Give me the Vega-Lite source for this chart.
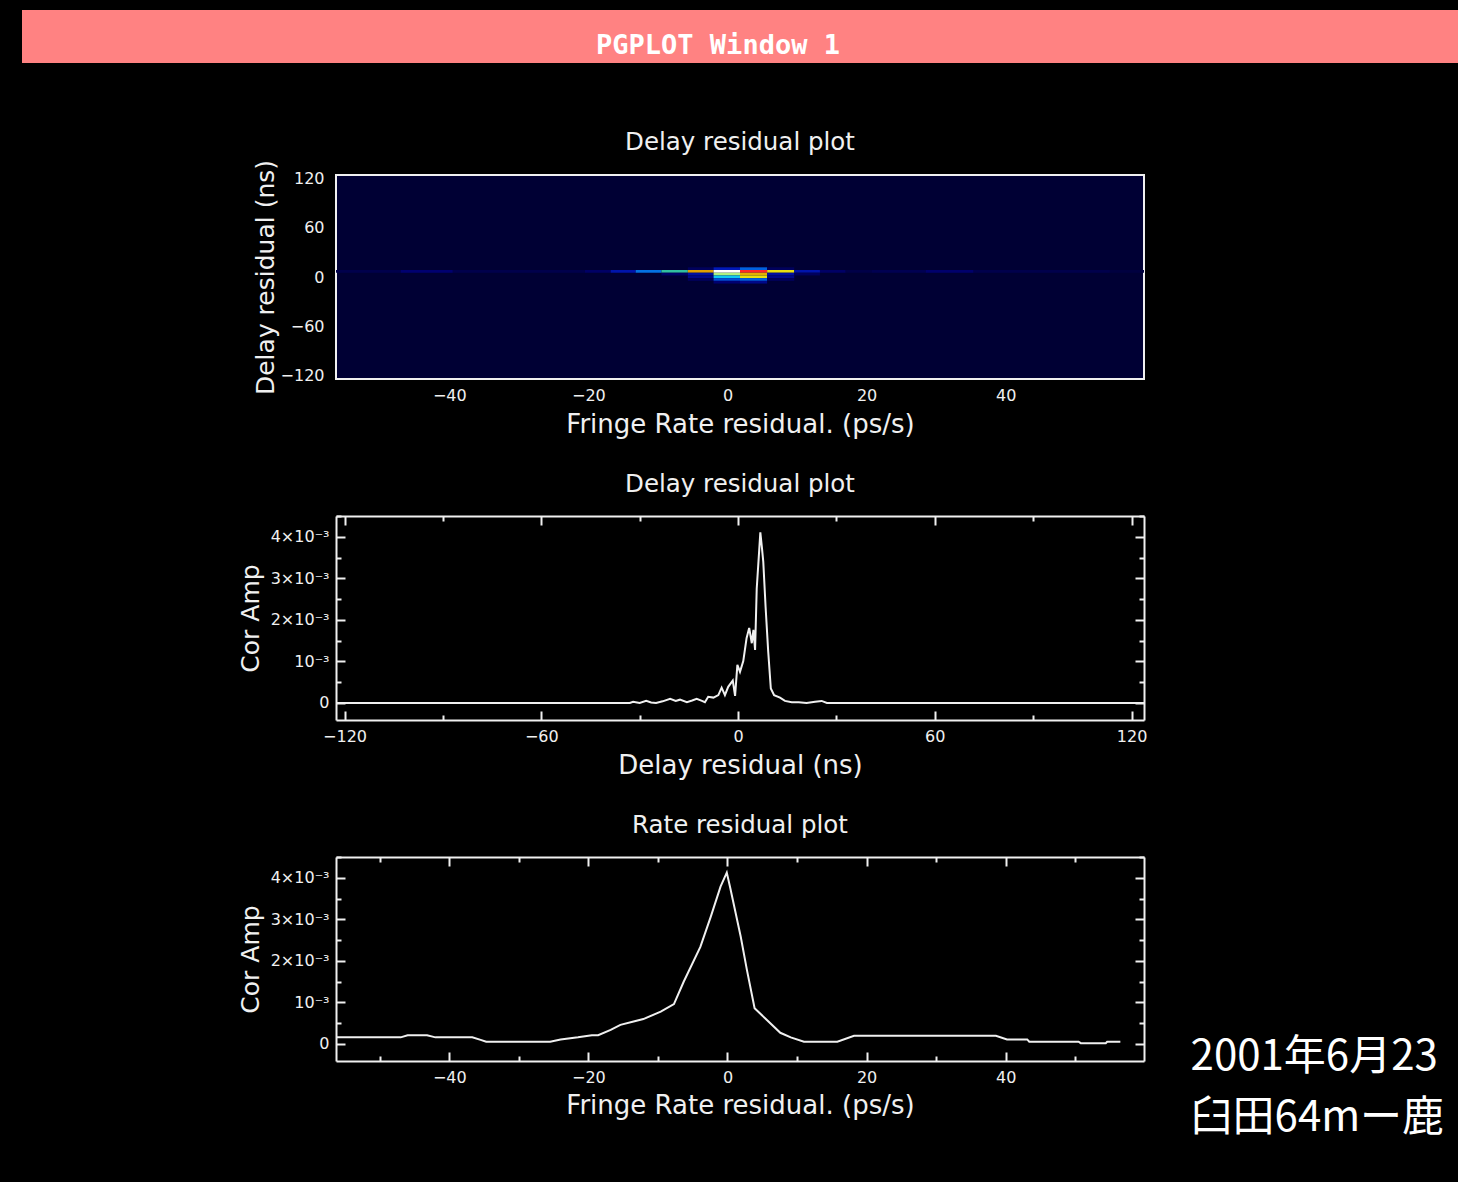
{
  "$schema": "https://vega.github.io/schema/vega-lite/v6.json",
  "background": "#000000",
  "padding": {"left": 22, "top": 10, "right": 0, "bottom": 48},
  "bounds": "flush",
  "center": true,
  "spacing": 112,
  "config": {
    "view": {"stroke": null},
    "font": "DejaVu Sans",
    "axis": {
      "labelFont": "DejaVu Sans", "labelFontSize": 16, "labelColor": "#f0f0f0",
      "titleFont": "DejaVu Sans", "titleFontSize": 25, "titleFontWeight": "normal", "titleColor": "#f0f0f0",
      "tickColor": "#f0f0f0", "tickWidth": 2, "domainColor": "#f0f0f0", "domainWidth": 2,
      "grid": false, "labelFlush": false, "labelOverlap": false
    },
    "axisBottom": {"titleFontSize": 26},
    "title": {"font": "DejaVu Sans", "fontSize": 24.5, "fontWeight": "normal", "color": "#f0f0f0", "baseline": "alphabetic", "anchor": "middle"}
  },
  "vconcat": [
    {
      "width": 1436, "height": 53,
      "view": {"fill": "#ff8282", "stroke": null},
      "data": {"values": [{"caption": "PGPLOT Window 1"}]},
      "mark": {"type": "text", "font": "DejaVu Sans Mono", "fontWeight": "bold", "fontSize": 27, "color": "#ffffff", "baseline": "middle", "dx": -22, "dy": 9},
      "encoding": {"text": {"field": "caption"}}
    },
    {
      "width": 808, "height": 204,
      "title": {"text": "Delay residual plot", "offset": 25, "dy": 21},
      "view": {"fill": "#000034", "stroke": "#f0f0f0", "strokeWidth": 2},
      "data": {"values": [
        {"r0": -56.3, "r1": -47, "d0": 5.2, "d1": 8.5, "amp": 0.12},
        {"r0": -47, "r1": -39.5, "d0": 5.2, "d1": 8.5, "amp": 0.3},
        {"r0": -39.5, "r1": -20.5, "d0": 5.2, "d1": 8.5, "amp": 0.12},
        {"r0": -20.5, "r1": -16.8, "d0": 5.2, "d1": 8.5, "amp": 0.25},
        {"r0": -16.8, "r1": -13.2, "d0": 5.2, "d1": 8.5, "amp": 0.55},
        {"r0": -13.2, "r1": -9.5, "d0": 5.2, "d1": 8.5, "amp": 1.1},
        {"r0": -9.5, "r1": -5.7, "d0": 5.2, "d1": 8.5, "amp": 2.0},
        {"r0": -5.7, "r1": -2.0, "d0": 5.2, "d1": 8.5, "amp": 3.2},
        {"r0": -2.0, "r1": 1.8, "d0": 5.2, "d1": 8.5, "amp": 4.0},
        {"r0": 1.8, "r1": 5.7, "d0": 5.2, "d1": 8.5, "amp": 3.6},
        {"r0": 5.7, "r1": 9.6, "d0": 5.2, "d1": 8.5, "amp": 2.8},
        {"r0": 9.6, "r1": 13.3, "d0": 5.2, "d1": 8.5, "amp": 0.55},
        {"r0": 13.3, "r1": 17, "d0": 5.2, "d1": 8.5, "amp": 0.25},
        {"r0": 17, "r1": 20.7, "d0": 5.2, "d1": 8.5, "amp": 0.1},
        {"r0": 20.7, "r1": 28.5, "d0": 5.2, "d1": 8.5, "amp": 0.15},
        {"r0": 28.5, "r1": 35.4, "d0": 5.2, "d1": 8.5, "amp": 0.28},
        {"r0": 35.4, "r1": 55, "d0": 5.2, "d1": 8.5, "amp": 0.12},
        {"r0": 55, "r1": 59.9, "d0": 5.2, "d1": 8.5, "amp": 0.06},
        {"r0": -5.7, "r1": -2.0, "d0": 8.5, "d1": 11.8, "amp": 0.2},
        {"r0": -2.0, "r1": 1.8, "d0": 8.5, "d1": 11.8, "amp": 0.6},
        {"r0": 1.8, "r1": 5.7, "d0": 8.5, "d1": 11.8, "amp": 1.0},
        {"r0": 5.7, "r1": 9.6, "d0": 8.5, "d1": 11.8, "amp": 0.2},
        {"r0": -9.5, "r1": -5.7, "d0": 1.9, "d1": 5.2, "amp": 0.25},
        {"r0": -5.7, "r1": -2.0, "d0": 1.9, "d1": 5.2, "amp": 0.5},
        {"r0": -2.0, "r1": 1.8, "d0": 1.9, "d1": 5.2, "amp": 2.4},
        {"r0": 1.8, "r1": 5.7, "d0": 1.9, "d1": 5.2, "amp": 3.1},
        {"r0": 5.7, "r1": 9.6, "d0": 1.9, "d1": 5.2, "amp": 0.5},
        {"r0": 9.6, "r1": 13.3, "d0": 1.9, "d1": 5.2, "amp": 0.2},
        {"r0": -5.7, "r1": -2.0, "d0": -1.4, "d1": 1.9, "amp": 0.4},
        {"r0": -2.0, "r1": 1.8, "d0": -1.4, "d1": 1.9, "amp": 1.6},
        {"r0": 1.8, "r1": 5.7, "d0": -1.4, "d1": 1.9, "amp": 2.8},
        {"r0": 5.7, "r1": 9.6, "d0": -1.4, "d1": 1.9, "amp": 0.4},
        {"r0": -5.7, "r1": -2.0, "d0": -4.7, "d1": -1.4, "amp": 0.2},
        {"r0": -2.0, "r1": 1.8, "d0": -4.7, "d1": -1.4, "amp": 0.9},
        {"r0": 1.8, "r1": 5.7, "d0": -4.7, "d1": -1.4, "amp": 1.0},
        {"r0": 5.7, "r1": 9.6, "d0": -4.7, "d1": -1.4, "amp": 0.2},
        {"r0": -2.0, "r1": 1.8, "d0": -8.0, "d1": -4.7, "amp": 0.3},
        {"r0": 1.8, "r1": 5.7, "d0": -8.0, "d1": -4.7, "amp": 0.4}
      ]},
      "mark": {"type": "rect"},
      "encoding": {
        "x": {"field": "r0", "type": "quantitative",
              "scale": {"domain": [-56.3, 59.9], "nice": false, "zero": false},
              "axis": {"values": [-40, -20, 0, 20, 40], "ticks": false, "domain": false, "labelPadding": 8,
                       "title": "Fringe Rate residual. (ps/s)", "titleY": 53, "titleBaseline": "alphabetic"}},
        "x2": {"field": "r1"},
        "y": {"field": "d0", "type": "quantitative",
              "scale": {"domain": [-124.3, 124.3], "nice": false, "zero": false},
              "axis": {"values": [-120, -60, 0, 60, 120], "ticks": false, "domain": false, "labelPadding": 12,
                       "title": "Delay residual (ns)", "titleX": -63, "titleY": 102, "titleAngle": 270,
                       "titleBaseline": "alphabetic", "titleAlign": "center"}},
        "y2": {"field": "d1"},
        "color": {"field": "amp", "type": "quantitative", "legend": null,
                  "scale": {"domain": [0, 0.3, 0.6, 1.0, 1.6, 2.0, 2.4, 2.8, 3.2, 3.6, 4.0],
                            "range": ["#000034", "#000070", "#0018b8", "#0060e0", "#10c8f0", "#30c0a0", "#b0f080", "#e8e010", "#e0a000", "#ff2828", "#ffffff"],
                            "interpolate": "rgb"}}
      }
    },
    {
      "width": 808, "height": 229,
      "title": {"text": "Delay residual plot", "offset": 0, "dy": 6},
      "view": {"stroke": null},
      "data": {"values": [
        {"d": -122.6, "a": 0}, {"d": -33, "a": 0}, {"d": -32, "a": 0.00003}, {"d": -30, "a": 0},
        {"d": -28, "a": 0.00005}, {"d": -26.5, "a": 0.00001}, {"d": -25, "a": 0}, {"d": -23, "a": 0.00004},
        {"d": -20.7, "a": 0.0001}, {"d": -19, "a": 0.00005}, {"d": -17.7, "a": 0.00008}, {"d": -15.6, "a": 0.00002},
        {"d": -14, "a": 0.00006}, {"d": -12.6, "a": 0.0001}, {"d": -11, "a": 0.00005}, {"d": -10.1, "a": 0.00002},
        {"d": -9.1, "a": 0.00015}, {"d": -7.5, "a": 0.00013}, {"d": -6, "a": 0.00019}, {"d": -5, "a": 0.00037},
        {"d": -4, "a": 0.00019}, {"d": -3, "a": 0.00039}, {"d": -1.6, "a": 0.00054}, {"d": -0.9, "a": 0.00017},
        {"d": -0.2, "a": 0.00092}, {"d": 0.6, "a": 0.00075}, {"d": 1.6, "a": 0.00101}, {"d": 2.6, "a": 0.00156},
        {"d": 3.4, "a": 0.00181}, {"d": 4.2, "a": 0.00144}, {"d": 4.7, "a": 0.00176}, {"d": 5.2, "a": 0.00128},
        {"d": 5.7, "a": 0.00276}, {"d": 6.3, "a": 0.00349}, {"d": 6.8, "a": 0.00411}, {"d": 7.3, "a": 0.00373},
        {"d": 7.7, "a": 0.0034}, {"d": 8.4, "a": 0.00232}, {"d": 9.2, "a": 0.00124}, {"d": 10, "a": 0.00035},
        {"d": 11, "a": 0.00019}, {"d": 12.8, "a": 0.00013}, {"d": 14.3, "a": 0.00005}, {"d": 16.4, "a": 0.00002},
        {"d": 18.5, "a": 0.00002}, {"d": 20.9, "a": 0}, {"d": 23.5, "a": 0.00003}, {"d": 25.5, "a": 0.00005},
        {"d": 27.1, "a": 0}, {"d": 123.8, "a": 0}
      ]},
      "layer": [
        {
          "mark": {"type": "line", "color": "#f0f0f0", "strokeWidth": 2},
          "encoding": {
            "x": {"field": "d", "type": "quantitative",
                  "scale": {"domain": [-122.6, 123.8], "nice": false, "zero": false},
                  "axis": {"orient": "bottom", "values": [-120, -60, 0, 60, 120], "ticks": false, "labelPadding": 8,
                           "domain": true, "title": "Delay residual (ns)", "titleY": 53, "titleBaseline": "alphabetic"}},
            "y": {"field": "a", "type": "quantitative",
                  "scale": {"domain": [-0.00041, 0.004506], "range": [229, 25], "nice": false, "zero": false},
                  "axis": {"orient": "left", "values": [0, 0.001, 0.002, 0.003, 0.004], "ticks": false, "labelPadding": 7,
                           "labelExpr": "datum.value == 0 ? '0' : (round(datum.value*1000) == 1 ? '10⁻³' : round(datum.value*1000) + '×10⁻³')",
                           "domain": true, "title": "Cor Amp", "titleX": -78, "titleY": 127, "titleAngle": 270,
                           "titleBaseline": "alphabetic", "titleAlign": "center"}}
          }
        },
        {
          "mark": {"type": "line", "opacity": 0},
          "encoding": {
            "x": {"field": "d", "type": "quantitative",
                  "axis": {"orient": "bottom", "values": [-120, -60, 0, 60, 120], "tickSize": -9, "labels": false, "domain": false, "title": null}},
            "y": {"field": "a", "type": "quantitative",
                  "axis": {"orient": "left", "values": [0, 0.001, 0.002, 0.003, 0.004], "tickSize": -9, "labels": false, "domain": false, "title": null}}
          }
        },
        {
          "mark": {"type": "line", "opacity": 0},
          "encoding": {
            "x": {"field": "d", "type": "quantitative",
                  "axis": {"orient": "bottom", "values": [-90, -30, 30, 90], "tickSize": -5, "labels": false, "domain": false, "title": null}},
            "y": {"field": "a", "type": "quantitative",
                  "axis": {"orient": "left", "values": [0.0005, 0.0015, 0.0025, 0.0035, 0.0045], "tickSize": -5, "labels": false, "domain": false, "title": null}}
          }
        },
        {
          "mark": {"type": "line", "opacity": 0},
          "encoding": {
            "x": {"field": "d", "type": "quantitative",
                  "axis": {"orient": "top", "offset": -25, "values": [-120, -60, 0, 60, 120], "tickSize": -9, "labels": false, "domain": true, "title": null}},
            "y": {"field": "a", "type": "quantitative",
                  "axis": {"orient": "right", "values": [0, 0.001, 0.002, 0.003, 0.004], "tickSize": -9, "labels": false, "domain": true, "title": null}}
          }
        },
        {
          "mark": {"type": "line", "opacity": 0},
          "encoding": {
            "x": {"field": "d", "type": "quantitative",
                  "axis": {"orient": "top", "offset": -25, "values": [-90, -30, 30, 90], "tickSize": -5, "labels": false, "domain": false, "title": null}},
            "y": {"field": "a", "type": "quantitative",
                  "axis": {"orient": "right", "values": [0.0005, 0.0015, 0.0025, 0.0035, 0.0045], "tickSize": -5, "labels": false, "domain": false, "title": null}}
          }
        }
      ],
      "resolve": {"axis": {"x": "independent", "y": "independent"}}
    },
    {
      "width": 808, "height": 229,
      "title": {"text": "Rate residual plot", "offset": 0, "dy": 6},
      "view": {"stroke": null},
      "data": {"values": [
        {"r": -56.3, "a": 0.00016}, {"r": -47, "a": 0.00016}, {"r": -46, "a": 0.00021}, {"r": -43.2, "a": 0.00021},
        {"r": -42, "a": 0.00016}, {"r": -36.7, "a": 0.00016}, {"r": -35.5, "a": 0.0001}, {"r": -34.7, "a": 0.000055},
        {"r": -25.5, "a": 0.000055}, {"r": -24, "a": 0.00011}, {"r": -21.5, "a": 0.00016}, {"r": -19.5, "a": 0.00021},
        {"r": -18.6, "a": 0.00021}, {"r": -16.8, "a": 0.00034}, {"r": -15.4, "a": 0.00046}, {"r": -13.5, "a": 0.00054},
        {"r": -12.1, "a": 0.0006}, {"r": -9.6, "a": 0.00078}, {"r": -7.7, "a": 0.00096}, {"r": -6.3, "a": 0.0015},
        {"r": -3.9, "a": 0.00234}, {"r": -2.4, "a": 0.00307}, {"r": -1, "a": 0.00379}, {"r": -0.1, "a": 0.00413},
        {"r": 0.4, "a": 0.00376}, {"r": 1.9, "a": 0.00259}, {"r": 2.8, "a": 0.00178}, {"r": 3.9, "a": 0.00086},
        {"r": 7.6, "a": 0.00027}, {"r": 9.1, "a": 0.00016}, {"r": 11, "a": 0.000055}, {"r": 15.8, "a": 0.000055},
        {"r": 18.2, "a": 0.0002}, {"r": 38.6, "a": 0.0002}, {"r": 40.2, "a": 0.00011}, {"r": 43.1, "a": 0.00011},
        {"r": 43.4, "a": 0.000055}, {"r": 50.5, "a": 0.000055}, {"r": 50.8, "a": 0.00002}, {"r": 54.4, "a": 0.00002},
        {"r": 54.6, "a": 0.000055}, {"r": 56.5, "a": 0.000055}
      ]},
      "layer": [
        {
          "mark": {"type": "line", "color": "#f0f0f0", "strokeWidth": 2},
          "encoding": {
            "x": {"field": "r", "type": "quantitative",
                  "scale": {"domain": [-56.3, 59.9], "nice": false, "zero": false},
                  "axis": {"orient": "bottom", "values": [-40, -20, 0, 20, 40], "ticks": false, "labelPadding": 8,
                           "domain": true, "title": "Fringe Rate residual. (ps/s)", "titleY": 52, "titleBaseline": "alphabetic"}},
            "y": {"field": "a", "type": "quantitative",
                  "scale": {"domain": [-0.00041, 0.004506], "range": [229, 25], "nice": false, "zero": false},
                  "axis": {"orient": "left", "values": [0, 0.001, 0.002, 0.003, 0.004], "ticks": false, "labelPadding": 7,
                           "labelExpr": "datum.value == 0 ? '0' : (round(datum.value*1000) == 1 ? '10⁻³' : round(datum.value*1000) + '×10⁻³')",
                           "domain": true, "title": "Cor Amp", "titleX": -78, "titleY": 127, "titleAngle": 270,
                           "titleBaseline": "alphabetic", "titleAlign": "center"}}
          }
        },
        {
          "mark": {"type": "line", "opacity": 0},
          "encoding": {
            "x": {"field": "r", "type": "quantitative",
                  "axis": {"orient": "bottom", "values": [-40, -20, 0, 20, 40], "tickSize": -9, "labels": false, "domain": false, "title": null}},
            "y": {"field": "a", "type": "quantitative",
                  "axis": {"orient": "left", "values": [0, 0.001, 0.002, 0.003, 0.004], "tickSize": -9, "labels": false, "domain": false, "title": null}}
          }
        },
        {
          "mark": {"type": "line", "opacity": 0},
          "encoding": {
            "x": {"field": "r", "type": "quantitative",
                  "axis": {"orient": "bottom", "values": [-50, -30, -10, 10, 30, 50], "tickSize": -5, "labels": false, "domain": false, "title": null}},
            "y": {"field": "a", "type": "quantitative",
                  "axis": {"orient": "left", "values": [0.0005, 0.0015, 0.0025, 0.0035, 0.0045], "tickSize": -5, "labels": false, "domain": false, "title": null}}
          }
        },
        {
          "mark": {"type": "line", "opacity": 0},
          "encoding": {
            "x": {"field": "r", "type": "quantitative",
                  "axis": {"orient": "top", "offset": -25, "values": [-40, -20, 0, 20, 40], "tickSize": -9, "labels": false, "domain": true, "title": null}},
            "y": {"field": "a", "type": "quantitative",
                  "axis": {"orient": "right", "values": [0, 0.001, 0.002, 0.003, 0.004], "tickSize": -9, "labels": false, "domain": true, "title": null}}
          }
        },
        {
          "mark": {"type": "line", "opacity": 0},
          "encoding": {
            "x": {"field": "r", "type": "quantitative",
                  "axis": {"orient": "top", "offset": -25, "values": [-50, -30, -10, 10, 30, 50], "tickSize": -5, "labels": false, "domain": false, "title": null}},
            "y": {"field": "a", "type": "quantitative",
                  "axis": {"orient": "right", "values": [0.0005, 0.0015, 0.0025, 0.0035, 0.0045], "tickSize": -5, "labels": false, "domain": false, "title": null}}
          }
        },
        {
          "data": {"values": [{"note": ["2001年6月23", "臼田64mー鹿"]}]},
          "mark": {"type": "text", "font": "Noto Sans CJK JP", "fontSize": 42, "color": "#ffffff", "align": "left", "baseline": "top", "lineHeight": 61},
          "encoding": {
            "x": {"datum": 66.6, "type": "quantitative", "axis": null},
            "y": {"datum": 0.00016, "type": "quantitative", "axis": null},
            "text": {"field": "note"}
          }
        }
      ],
      "resolve": {"axis": {"x": "independent", "y": "independent"}}
    }
  ]
}
